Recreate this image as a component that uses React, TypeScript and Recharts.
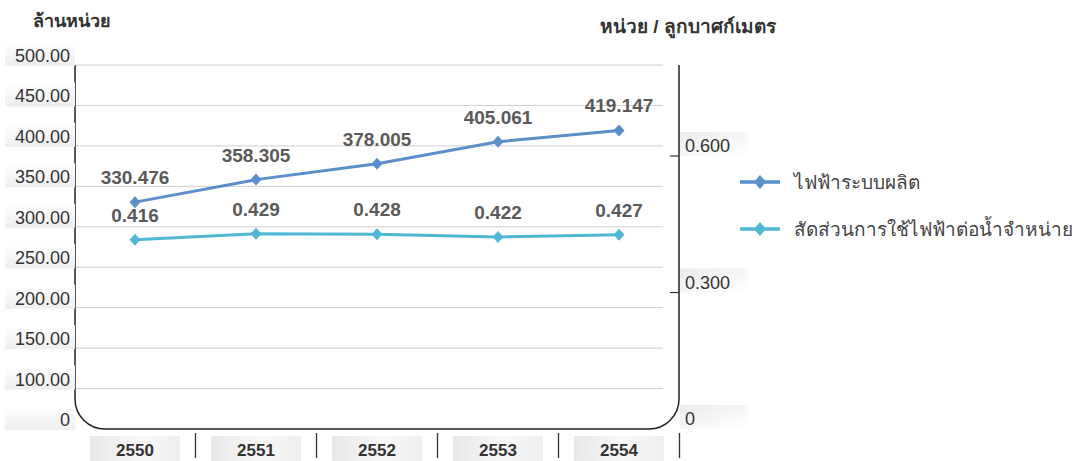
import React from "react"
import {
  LineChart,
  Line,
  XAxis,
  YAxis,
  CartesianGrid,
  LabelList,
  Legend,
  Customized,
} from "recharts"

const years = ["2550", "2551", "2552", "2553", "2554"]
const generation = [330.476, 358.305, 378.005, 405.061, 419.147]
const ratio = [0.416, 0.429, 0.428, 0.422, 0.427]
const leftTicks = [50, 100, 150, 200, 250, 300, 350, 400, 450, 500]
const rightTicks = [0, 0.3, 0.6]
const seriesNames = ["ไฟฟ้าระบบผลิต", "สัดส่วนการใช้ไฟฟ้าต่อน้ำจำหน่าย"]
const leftTitle = "ล้านหน่วย"
const rightTitle = "หน่วย / ลูกบาศก์เมตร"

const BLUE = "#5a8fca"
const CYAN = "#50b8d4"
const seriesColors = [BLUE, CYAN]
const FONT = "'Liberation Sans', 'Noto Sans', sans-serif"

// plot box (must agree with margins below)
const PL = 75
const PR = 679
const PT = 65
const PB = 429

const data = years.map((y, i) => ({ year: y, gen: generation[i], ratio: ratio[i] }))

function Diamond(props: any) {
  const { cx, cy, fill } = props
  if (cx == null || cy == null) return null
  return (
    <path
      d={`M${cx},${cy - 6} L${cx + 5.5},${cy} L${cx},${cy + 6} L${cx - 5.5},${cy} Z`}
      fill={fill}
    />
  )
}

function LeftTick({ x, y, payload }: any) {
  const label = payload.value === 50 ? "0" : payload.value.toFixed(2)
  return (
    <g>
      <rect x={x - 70} y={y - 23} width={70} height={24} fill="url(#boxGrad)" />
      <text x={x - 5} y={y - 3} textAnchor="end" fontSize={18} fill="#333" fontFamily={FONT}>
        {label}
      </text>
    </g>
  )
}

function RightTick({ x, y, payload }: any) {
  const label = payload.value === 0 ? "0" : payload.value.toFixed(3)
  return (
    <g>
      <rect x={x + 1} y={y - 24} width={68} height={24} fill="url(#boxGradR)" />
      {payload.value !== 0 && <line x1={x - 9} x2={x} y1={y} y2={y} stroke="#333" strokeWidth={1.2} />}
      <text x={x + 6} y={y - 4} fontSize={18} fill="#333" fontFamily={FONT}>
        {label}
      </text>
    </g>
  )
}

function XTick({ x, y, payload }: any) {
  return (
    <g>
      <rect x={x - 45} y={y + 7} width={90} height={25} fill="url(#boxGradX)" />
      <text x={x} y={y + 27} textAnchor="middle" fontSize={17} fontWeight="bold" fill="#333" fontFamily={FONT}>
        {payload.value}
      </text>
      <line x1={x + 60.5} x2={x + 60.5} y1={y + 4} y2={y + 29} stroke="#333" strokeWidth={1.3} />
    </g>
  )
}

function GridLine(props: any) {
  const { x1, x2, y1, y2 } = props
  if (y1 >= PB - 1) return <g />
  return <line x1={x1} x2={x2 - 16} y1={y1} y2={y2} stroke="#cfcfcf" strokeWidth={1} />
}

function Frame() {
  const r = 30
  return (
    <g>
      <defs>
        <linearGradient id="boxGrad" x1="0" y1="0" x2="0" y2="1">
          <stop offset="0%" stopColor="#ffffff" />
          <stop offset="100%" stopColor="#eeeeee" />
        </linearGradient>
        <linearGradient id="boxGradR" x1="0" y1="0" x2="1" y2="1">
          <stop offset="0%" stopColor="#ececec" />
          <stop offset="100%" stopColor="#ffffff" />
        </linearGradient>
        <linearGradient id="boxGradX" x1="0" y1="0" x2="1" y2="0">
          <stop offset="0%" stopColor="#e8e8e8" />
          <stop offset="55%" stopColor="#f8f8f8" />
          <stop offset="100%" stopColor="#efefef" />
        </linearGradient>
      </defs>
      <path
        d={`M${PL},${PT} L${PL},${PB - r} A${r},${r} 0 0 0 ${PL + r},${PB} L${PR - r},${PB} A${r},${r} 0 0 0 ${PR},${PB - r} L${PR},${PT}`}
        fill="none"
        stroke="#222"
        strokeWidth={1.5}
      />
      <text x={33} y={27} fontSize={18} fontWeight="bold" fill="#333" fontFamily={FONT}>
        {leftTitle}
      </text>
      <text x={600} y={33} fontSize={19} fontWeight="bold" fill="#333" fontFamily={FONT}>
        {rightTitle}
      </text>
    </g>
  )
}

function LegendContent() {
  return (
    <div style={{ fontFamily: FONT }}>
      {seriesNames.map((name, i) => (
        <div key={i} style={{ display: "flex", alignItems: "center", height: 47, whiteSpace: "nowrap" }}>
          <svg width={58} height={20}>
            <line x1={4} x2={44} y1={10} y2={10} stroke={seriesColors[i]} strokeWidth={3.5} />
            <path d="M24,3 L30,10 L24,17 L18,10 Z" fill={seriesColors[i]} />
          </svg>
          <span style={{ fontSize: 19, color: "#444" }}>{name}</span>
        </div>
      ))}
    </div>
  )
}

export default function App() {
  return (
    <div style={{ position: "absolute", left: 0, top: 0, background: "#fff" }}>
      <LineChart
        width={1083}
        height={461}
        data={data}
        margin={{ top: PT, right: 1083 - PR - 80, bottom: 0, left: 0 }}
      >
        <Customized component={Frame} />
        <CartesianGrid vertical={false} horizontal={GridLine as any} yAxisId="left" />
        <XAxis
          dataKey="year"
          padding={{ left: 60, right: 60 }}
          axisLine={false}
          tickLine={false}
          tickSize={0}
          tickMargin={0}
          height={32}
          interval={0}
          tick={<XTick />}
        />
        <YAxis
          yAxisId="left"
          orientation="left"
          width={PL}
          domain={[50, 500]}
          ticks={leftTicks}
          axisLine={false}
          tickLine={false}
          tickSize={0}
          tickMargin={0}
          interval={0}
          tick={<LeftTick />}
        />
        <YAxis
          yAxisId="right"
          orientation="right"
          width={80}
          domain={[0, 0.8]}
          ticks={rightTicks}
          axisLine={false}
          tickLine={false}
          tickSize={0}
          tickMargin={0}
          interval={0}
          tick={<RightTick />}
        />
        <Legend
          layout="horizontal"
          verticalAlign="middle"
          align="center"
          content={<LegendContent />}
          wrapperStyle={{ left: 736, top: 158, width: 347 }}
        />
        <Line
          yAxisId="left"
          type="linear"
          dataKey="gen"
          name={seriesNames[0]}
          stroke={BLUE}
          strokeWidth={3}
          dot={(p: any) => <Diamond key={p.index} {...p} fill={BLUE} />}
          activeDot={false}
          isAnimationActive={false}
        >
          <LabelList
            dataKey="gen"
            position="top"
            offset={18}
            fill="#5a5a5a"
            fontSize={19}
            fontWeight="bold"
            fontFamily={FONT}
            formatter={(v: any) => Number(v).toFixed(3)}
          />
        </Line>
        <Line
          yAxisId="right"
          type="linear"
          dataKey="ratio"
          name={seriesNames[1]}
          stroke={CYAN}
          strokeWidth={3}
          dot={(p: any) => <Diamond key={p.index} {...p} fill={CYAN} />}
          activeDot={false}
          isAnimationActive={false}
        >
          <LabelList
            dataKey="ratio"
            position="top"
            offset={18}
            fill="#5a5a5a"
            fontSize={19}
            fontWeight="bold"
            fontFamily={FONT}
            formatter={(v: any) => Number(v).toFixed(3)}
          />
        </Line>
      </LineChart>
    </div>
  )
}
